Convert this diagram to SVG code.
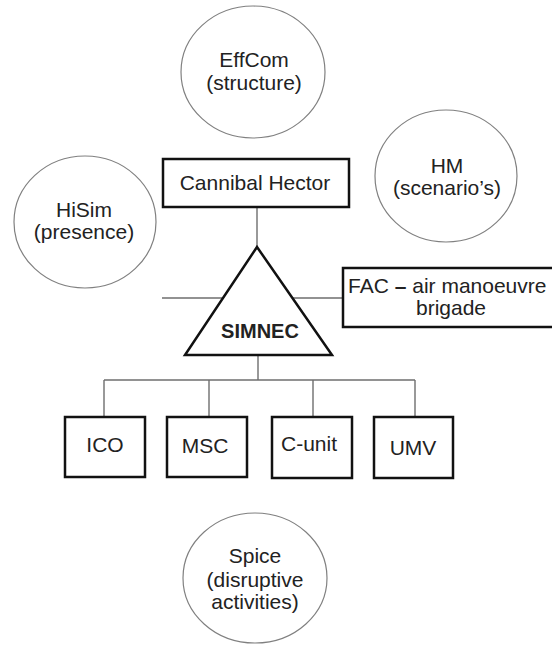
<svg xmlns="http://www.w3.org/2000/svg" width="552" height="645" viewBox="0 0 552 645">
<style>
.bg{fill:#fff}
.circ{fill:#fff;stroke:#808080;stroke-width:1.2}
.box{fill:#fff;stroke:#111;stroke-width:2.5}
.tri{fill:#fff;stroke:#111;stroke-width:2.5;stroke-linejoin:miter}
.conn{fill:none;stroke:#6e6e6e;stroke-width:1.4}
text{font-family:"Liberation Sans",Arial,sans-serif;font-size:21px;fill:#222;text-anchor:middle}
.b{font-weight:bold}
</style>
<rect class="bg" x="0" y="0" width="552" height="645"/>
<g id="connectors">
<line class="conn" x1="257" y1="207" x2="257" y2="248"/>
<line class="conn" x1="162" y1="298" x2="343" y2="298"/>
<line class="conn" x1="258" y1="355" x2="258" y2="380"/>
<line class="conn" x1="104" y1="380" x2="415" y2="380"/>
<line class="conn" x1="104" y1="380" x2="104" y2="417"/>
<line class="conn" x1="209" y1="380" x2="209" y2="417"/>
<line class="conn" x1="313" y1="380" x2="313" y2="417"/>
<line class="conn" x1="415" y1="380" x2="415" y2="417"/>
</g>
<g id="effcom">
<ellipse class="circ" cx="253" cy="72" rx="72" ry="66"/>
<text x="254" y="67">EffCom</text>
<text x="254" y="90">(structure)</text>
</g>
<g id="hm">
<ellipse class="circ" cx="446" cy="176" rx="71" ry="66"/>
<text x="447" y="173">HM</text>
<text x="447" y="195">(scenario’s)</text>
</g>
<g id="hisim">
<ellipse class="circ" cx="85" cy="222" rx="71" ry="66"/>
<text x="84" y="217">HiSim</text>
<text x="84" y="239">(presence)</text>
</g>
<g id="cannibal">
<rect class="box" x="163" y="159" width="186" height="48"/>
<text x="255" y="190">Cannibal Hector</text>
</g>
<g id="simnec">
<polygon class="tri" points="257,247 185,355 332,355"/>
<text class="b" x="260" y="338" style="font-size:20px">SIMNEC</text>
</g>
<g id="fac">
<rect class="box" x="343" y="268" width="218" height="59"/>
<text x="348" y="293" style="text-anchor:start">FAC <tspan class="b">–</tspan> air manoeuvre</text>
<text x="451" y="315">brigade</text>
</g>
<g id="ico">
<rect class="box" x="65" y="417" width="80" height="60"/>
<text x="105" y="452">ICO</text>
</g>
<g id="msc">
<rect class="box" x="167" y="417" width="80" height="60"/>
<text x="205" y="453">MSC</text>
</g>
<g id="cunit">
<rect class="box" x="272" y="417" width="80" height="61"/>
<text x="309" y="451">C-unit</text>
</g>
<g id="umv">
<rect class="box" x="374" y="417" width="79" height="61"/>
<text x="413" y="455">UMV</text>
</g>
<g id="spice">
<ellipse class="circ" cx="255" cy="578" rx="72" ry="65"/>
<text x="255" y="563">Spice</text>
<text x="255" y="587">(disruptive</text>
<text x="255" y="609">activities)</text>
</g>
</svg>
